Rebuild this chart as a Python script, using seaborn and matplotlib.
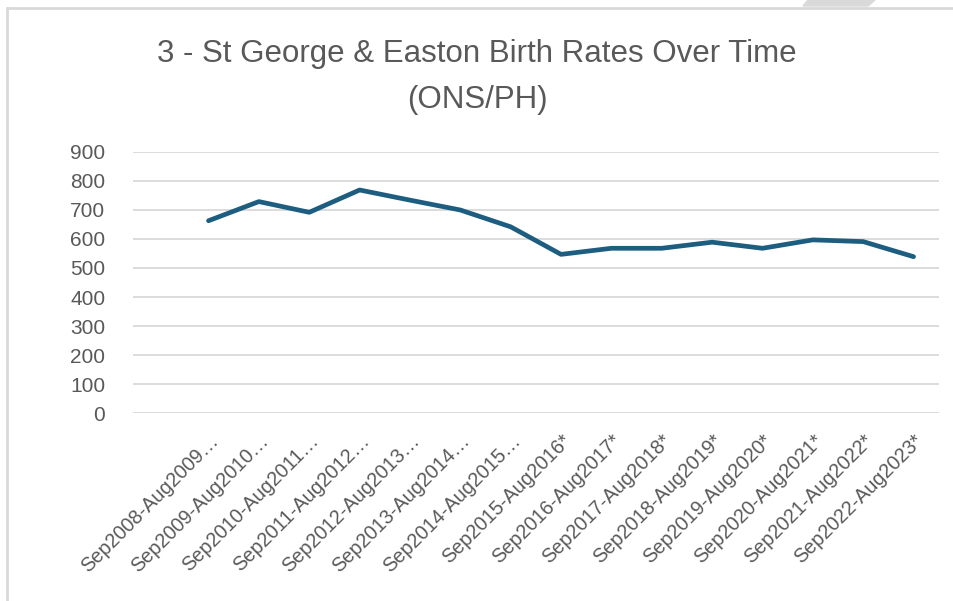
import numpy as np
import pandas as pd
import matplotlib
matplotlib.use("Agg")
import matplotlib.pyplot as plt
from matplotlib.patches import Polygon
import seaborn as sns

# first slot on the category axis is blank in the original chart
periods = ["", "Sep2008-Aug2009…", "Sep2009-Aug2010…", "Sep2010-Aug2011…",
           "Sep2011-Aug2012…", "Sep2012-Aug2013…", "Sep2013-Aug2014…",
           "Sep2014-Aug2015…", "Sep2015-Aug2016*", "Sep2016-Aug2017*",
           "Sep2017-Aug2018*", "Sep2018-Aug2019*", "Sep2019-Aug2020*",
           "Sep2020-Aug2021*", "Sep2021-Aug2022*", "Sep2022-Aug2023*"]
births = [np.nan, 663, 729, 692, 769, 734, 700, 642, 547, 568, 568, 589, 568, 597, 591, 539]
y_ticks = list(range(0, 1000, 100))

sns.set_style("white")
plt.rcParams["font.family"] = ["Liberation Sans Narrow", "Liberation Sans", "DejaVu Sans"]

text_col = "#595959"
grid_col = "#D9D9D9"
line_col = "#1D5E80"

df = pd.DataFrame({"pos": np.arange(len(periods)), "births": births})

fig = plt.figure(figsize=(9.54, 6.01), dpi=100)
ax = fig.add_axes([0.1394, 0.3128, 0.8446, 0.4343])

sns.lineplot(data=df, x="pos", y="births", color=line_col, linewidth=3.4, ax=ax)

ax.set_xlim(-0.5, len(periods) - 0.5)
ax.set_ylim(0, 900)
ax.set_yticks(y_ticks)
ax.set_yticklabels([str(v) for v in y_ticks], fontsize=15, color=text_col)
ax.set_xticks(df["pos"])
ax.set_xticklabels(periods, fontsize=14.3, color=text_col, rotation=45,
                   ha="right", va="top", rotation_mode="anchor")

ax.tick_params(axis="both", length=0)
ax.tick_params(axis="y", pad=20)
ax.tick_params(axis="x", pad=13)
ax.grid(axis="y", color=grid_col, linewidth=1.3)
ax.set_axisbelow(True)
for s in ax.spines.values():
    s.set_visible(False)
ax.set_xlabel("")
ax.set_ylabel("")

fig.text(0.5, 1 - 77 / 601, "3 - St George & Easton Birth Rates Over Time\n(ONS/PH)",
         ha="center", va="center", fontsize=22.5, color=text_col, linespacing=1.7)

# chart frame and the grey tab at the top edge
fig.add_artist(plt.Line2D([7 / 954, 7 / 954], [0, 1 - 8 / 601], color=grid_col,
                          linewidth=2, transform=fig.transFigure))
fig.add_artist(plt.Line2D([7 / 954, 1], [1 - 8 / 601, 1 - 8 / 601], color=grid_col,
                          linewidth=2, transform=fig.transFigure))
fig.add_artist(Polygon([[808 / 954, 1], [875 / 954, 1], [868 / 954, 1 - 6 / 601],
                        [803 / 954, 1 - 6 / 601]], closed=True, color="#D9D9D9",
                       transform=fig.transFigure))

fig.savefig("out.png", dpi=100)
